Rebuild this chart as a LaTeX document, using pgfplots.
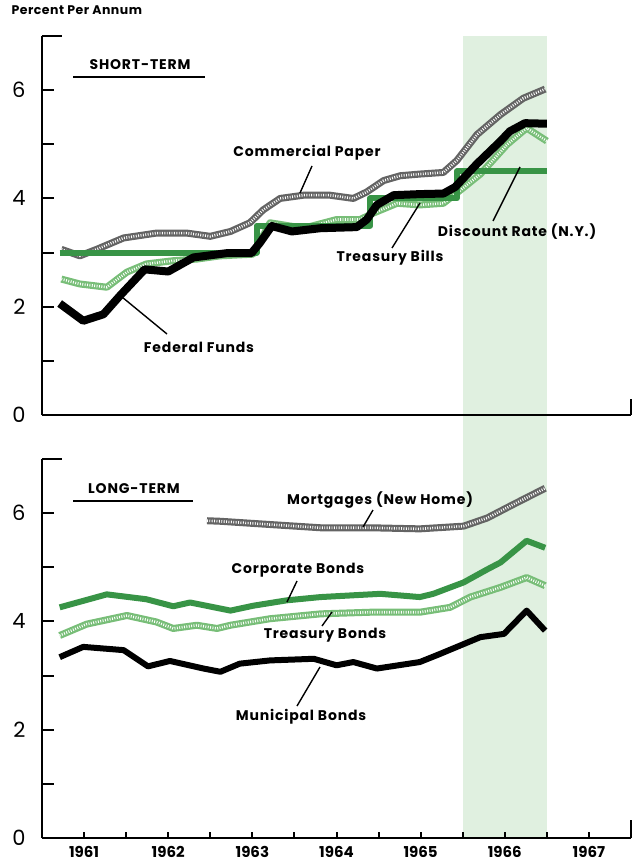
\documentclass[border=0pt]{standalone}
\usepackage{fontspec}
\setmainfont{Poppins}
\usepackage{pgfplots}
\pgfplotsset{compat=1.18}

\definecolor{dgreen}{RGB}{56,148,70}
\definecolor{lgreen}{RGB}{120,190,120}
\definecolor{hgray}{RGB}{100,100,100}
\definecolor{shade}{RGB}{224,240,224}

\pgfplotsset{
  panel/.style={
    width=589pt, height=379pt, scale only axis,
    xmin=1961, xmax=1968, ymin=0, ymax=7,
    axis x line=bottom, axis y line=left,
    axis line style={-, line width=2.4pt},
    axis on top, clip=false,
    tick align=inside,
    every tick/.style={black, line width=2pt},
    ytick={0,2,4,6}, minor ytick={1,3,5},
    major tick length=12pt, minor tick length=12pt,
    yticklabel style={font=\fontsize{21}{21}\selectfont, xshift=-13pt},
    /pgf/number format/assume math mode=true,
    extra y ticks={7}, extra y tick labels={},
    extra y tick style={major tick length=20pt},
  },
  hatch/.style={draw=#1, line width=7pt, line join=round,
    postaction={draw=white, line width=2.6pt, dash pattern=on 0.9pt off 1.5pt}},
  solid line/.style={draw=#1, line width=6pt, line join=round},
}

\newcommand{\lab}{\bfseries\fontsize{14}{14}\selectfont\addfontfeatures{LetterSpace=6}}

\begin{document}
\begin{tikzpicture}
\path[use as bounding box] (0pt,0pt) rectangle (632pt,-867pt);

% short-term panel
\begin{axis}[panel, at={(42pt,-415pt)}, anchor=south west, xtick=\empty]
\addplot[fill=shade, draw=none] coordinates {(1966,-0.85) (1967,-0.85) (1967,7) (1966,7)};
% commercial paper
\addplot[hatch=hgray] coordinates {
(1961.23,3.06) (1961.45,2.94) (1961.65,3.06) (1961.97,3.27) (1962.36,3.36)
(1962.72,3.36) (1963.00,3.30) (1963.24,3.39) (1963.47,3.55) (1963.63,3.79)
(1963.83,4.00) (1964.11,4.06) (1964.42,4.06) (1964.70,4.00) (1964.86,4.12)
(1965.06,4.33) (1965.26,4.42) (1965.49,4.45) (1965.77,4.48) (1965.93,4.70)
(1966.17,5.18) (1966.45,5.55) (1966.72,5.85) (1966.98,6.02)};
% treasury bills
\addplot[hatch=lgreen] coordinates {
(1961.23,2.51) (1961.45,2.42) (1961.77,2.36) (1962.01,2.64) (1962.24,2.79)
(1962.56,2.85) (1962.84,2.88) (1963.12,2.94) (1963.51,2.97) (1963.71,3.55)
(1964.11,3.45) (1964.50,3.61) (1964.78,3.61) (1964.94,3.73) (1965.22,3.91)
(1965.49,3.88) (1965.77,3.91) (1965.97,4.15) (1966.21,4.45) (1966.53,5.00)
(1966.76,5.30) (1967.00,5.06)};
% discount rate
\addplot[const plot, solid line=dgreen] coordinates {
(1961.21,3.0) (1963.55,3.5) (1964.90,4.0) (1965.93,4.5) (1967.00,4.5)};
% federal funds
\addplot[draw=black, line width=8pt, line join=round] coordinates {
(1961.21,2.06) (1961.49,1.74) (1961.73,1.86) (1961.93,2.21) (1962.22,2.69)
(1962.50,2.65) (1962.80,2.91) (1963.20,2.99) (1963.49,2.99) (1963.59,3.18)
(1963.73,3.49) (1963.97,3.39) (1964.31,3.45) (1964.74,3.47) (1964.86,3.61)
(1964.98,3.88) (1965.18,4.06) (1965.49,4.08) (1965.77,4.09) (1965.91,4.21)
(1966.17,4.64) (1966.45,5.06) (1966.56,5.24) (1966.74,5.39) (1967.00,5.38)};
\draw[line width=2.4pt] (axis cs:1968,0) -- (axis cs:1968,0.3);
\end{axis}

% long-term panel
\begin{axis}[panel, at={(42pt,-838pt)}, anchor=south west,
  xtick={1962,...,1967}, xticklabels={},
  xtick style={/pgfplots/major tick length=6pt},
  extra x ticks={1961.5,1962.5,1963.5,1964.5,1965.5,1966.5,1967.5},
  extra x tick labels={1961,1962,1963,1964,1965,1966,1967},
  extra x tick style={/pgfplots/major tick length=0pt,
    xticklabel style={font=\bfseries\fontsize{15}{15}\selectfont, yshift=-5pt}},
]
\addplot[fill=shade, draw=none] coordinates {(1966,0) (1967,0) (1967,7) (1966,7)};
% mortgages
\addplot[hatch=hgray] coordinates {
(1962.96,5.86) (1963.12,5.85) (1963.71,5.79) (1964.31,5.73) (1964.90,5.73)
(1965.49,5.71) (1966.01,5.76) (1966.29,5.91) (1966.60,6.16) (1966.98,6.46)};
% treasury bonds
\addplot[hatch=lgreen] coordinates {
(1961.21,3.74) (1961.53,3.95) (1962.01,4.11) (1962.36,3.99) (1962.56,3.87)
(1962.84,3.93) (1963.08,3.87) (1963.24,3.93) (1963.71,4.05) (1964.31,4.14)
(1964.90,4.17) (1965.49,4.17) (1965.85,4.26) (1966.09,4.45) (1966.45,4.63)
(1966.76,4.81) (1966.98,4.66)};
% corporate bonds
\addplot[solid line=dgreen] coordinates {
(1961.21,4.26) (1961.77,4.50) (1962.24,4.41) (1962.56,4.28) (1962.76,4.35)
(1963.24,4.20) (1963.51,4.29) (1963.91,4.39) (1964.31,4.45) (1965.02,4.51)
(1965.49,4.45) (1965.65,4.51) (1966.01,4.72) (1966.29,4.96) (1966.45,5.09)
(1966.76,5.49) (1966.98,5.36)};
% municipal bonds
\addplot[solid line=black] coordinates {
(1961.21,3.34) (1961.49,3.53) (1961.97,3.47) (1962.26,3.17) (1962.52,3.27)
(1962.92,3.13) (1963.12,3.07) (1963.35,3.22) (1963.71,3.28) (1964.23,3.31)
(1964.50,3.19) (1964.70,3.25) (1964.98,3.13) (1965.49,3.25) (1965.73,3.40)
(1966.21,3.71) (1966.49,3.77) (1966.76,4.20) (1966.98,3.83)};
\draw[line width=2.4pt] (axis cs:1968,0) -- (axis cs:1968,0.33);
\end{axis}

% titles and labels
\node[anchor=west, font=\bfseries\fontsize{12.5}{12.5}\selectfont\addfontfeatures{LetterSpace=4}] at (8pt,-10pt) {Percent Per Annum};
\node[font=\lab] at (140pt,-65pt) {SHORT-TERM};
\draw[line width=1.6pt] (73pt,-77pt) -- (205pt,-77pt);
\node[font=\lab] at (134pt,-489pt) {LONG-TERM};
\draw[line width=1.6pt] (73pt,-501pt) -- (193pt,-501pt);

\node[font=\lab] at (307pt,-153pt) {Commercial Paper};
\draw[line width=1.4pt] (312pt,-166pt) -- (300pt,-193pt);
\node[font=\lab] at (390pt,-258pt) {Treasury Bills};
\draw[line width=1.4pt] (392pt,-248pt) -- (420pt,-203pt);
\node[font=\lab] at (517pt,-232pt) {Discount Rate (N.Y.)};
\draw[line width=1.4pt] (493pt,-221pt) -- (520pt,-167pt);
\node[font=\lab] at (199pt,-347pt) {Federal Funds};
\draw[line width=1.4pt] (167pt,-334pt) -- (122pt,-297pt);

\node[font=\lab] at (380pt,-500pt) {Mortgages (New Home)};
\draw[line width=1.4pt] (373pt,-510pt) -- (363pt,-527pt);
\node[font=\lab] at (298pt,-570pt) {Corporate Bonds};
\draw[line width=1.4pt] (297pt,-581pt) -- (287pt,-602pt);
\node[font=\lab] at (325pt,-635pt) {Treasury Bonds};
\draw[line width=1.4pt] (322pt,-626pt) -- (332pt,-612pt);
\node[font=\lab] at (301pt,-717pt) {Municipal Bonds};
\draw[line width=1.4pt] (297pt,-706pt) -- (320pt,-667pt);
\end{tikzpicture}
\end{document}
